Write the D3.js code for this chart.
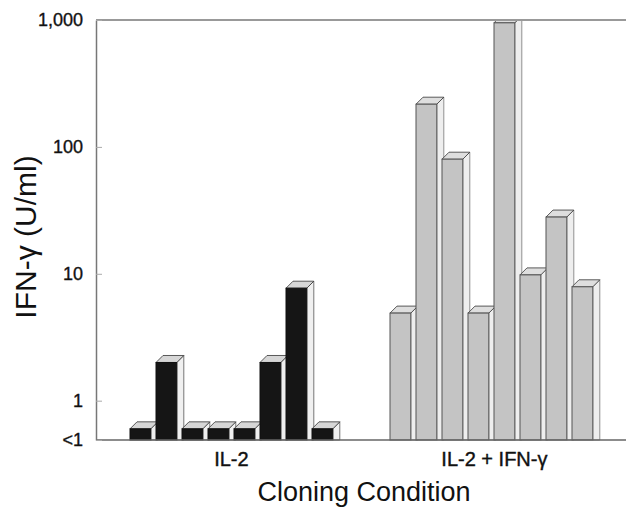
<!DOCTYPE html>
<html>
<head>
<meta charset="utf-8">
<script src="https://cdn.jsdelivr.net/npm/d3@7"></script>
<style>
  html, body { margin: 0; padding: 0; background: #fff; }
  svg { display: block; }
  text { font-family: "Liberation Sans", Arial, Helvetica, sans-serif; fill: #111; }
</style>
</head>
<body>
<svg id="chart" width="626" height="508"></svg>
<script>
// ---- data ----
const groups = ["IL-2", "IL-2 + IFN-\u03b3"];
const il2Values = [0.6, 2, 0.6, 0.6, 0.6, 2, 7.7, 0.6];
const ifnValues = [4.9, 217, 80, 4.9, 950, 9.8, 28, 7.9];
const yTickValues = [0.49, 1, 10, 100, 1000];
const yTickLabels = ["<1", "1", "10", "100", "1,000"];
const yTitle = "IFN-\u03b3 (U/ml)";
const xTitle = "Cloning Condition";

// ---- layout ----
const plotLeft = 96, plotTop = 20, plotBottom = 440, plotRight = 626;
const depth = 7;

const svg = d3.select("#chart");

const bars = [];
il2Values.forEach((v, i) => bars.push({ key: "a" + i, group: 0, value: v }));
const spacers = ["gap1", "gap2"];
ifnValues.forEach((v, i) => bars.push({ key: "b" + i, group: 1, value: v }));
const domainKeys = bars.filter(b => b.group === 0).map(b => b.key)
  .concat(spacers)
  .concat(bars.filter(b => b.group === 1).map(b => b.key));

const x = d3.scaleBand()
  .domain(domainKeys)
  .range([130, 130 + 26 * 17.8])
  .paddingInner(0.2)
  .paddingOuter(0);

const y = d3.scaleLog()
  .domain([0.49, 1000])
  .range([plotBottom, plotTop]);

svg.append("defs").append("clipPath").attr("id", "plotclip")
  .append("rect").attr("x", plotLeft).attr("y", plotTop + 1)
  .attr("width", plotRight - plotLeft).attr("height", plotBottom - plotTop);

const styles = [
  { front: "#151515", frontStroke: "#111", cap: "#d6d6d6", side: "#f0f0f0", edge: "#555" },
  { front: "#c4c4c4", frontStroke: "#555", cap: "#dedede", side: "#eeeeee", edge: "#777" }
];

const gBars = svg.append("g").attr("clip-path", "url(#plotclip)");
const bw = x.bandwidth();

bars.forEach(b => {
  const x0 = x(b.key);
  const yt = y(b.value);
  const s = styles[b.group];
  const g = gBars.append("g");
  g.append("path")
    .attr("d", `M${x0 + bw},${yt} L${x0 + bw + depth},${yt - depth} L${x0 + bw + depth},${plotBottom} L${x0 + bw},${plotBottom} Z`)
    .attr("fill", s.side).attr("stroke", s.edge).attr("stroke-width", 0.8);
  g.append("path")
    .attr("d", `M${x0},${yt} L${x0 + depth},${yt - depth} L${x0 + bw + depth},${yt - depth} L${x0 + bw},${yt} Z`)
    .attr("fill", s.cap).attr("stroke", "#333").attr("stroke-width", 0.8);
  g.append("rect")
    .attr("x", x0).attr("y", yt)
    .attr("width", bw).attr("height", plotBottom - yt)
    .attr("fill", s.front).attr("stroke", s.frontStroke).attr("stroke-width", 1);
});

svg.append("line").attr("x1", plotLeft).attr("x2", plotRight).attr("y1", plotTop).attr("y2", plotTop)
  .attr("stroke", "#777").attr("stroke-width", 1.5);
svg.append("line").attr("x1", plotLeft).attr("x2", plotRight).attr("y1", plotBottom).attr("y2", plotBottom)
  .attr("stroke", "#666").attr("stroke-width", 1.5);

const yAxis = d3.axisLeft(y)
  .tickValues(yTickValues)
  .tickFormat((d, i) => yTickLabels[i])
  .tickSizeInner(-6)
  .tickSizeOuter(0)
  .tickPadding(13);

const ga = svg.append("g").attr("transform", `translate(${plotLeft},0)`).call(yAxis);
ga.select(".domain").attr("stroke", "#777").attr("stroke-width", 1.5);
ga.selectAll(".tick line").attr("stroke", "#aaa").attr("stroke-width", 1);
ga.selectAll(".tick text")
  .attr("font-size", 18)
  .attr("fill", "#111")
  .attr("stroke", "#111").attr("stroke-width", 0.35)
  .style("font-family", "'Liberation Sans', Arial, sans-serif");

[0, 1].forEach(gi => {
  const keys = bars.filter(b => b.group === gi).map(b => b.key);
  const cx = (x(keys[0]) + x(keys[keys.length - 1]) + bw) / 2;
  svg.append("text")
    .attr("x", cx + (gi === 1 ? 3 : 0)).attr("y", 466)
    .attr("text-anchor", "middle")
    .attr("font-size", 20)
    .attr("stroke", "#111").attr("stroke-width", 0.4)
    .text(groups[gi]);
});

svg.append("text")
  .attr("x", 364).attr("y", 501)
  .attr("text-anchor", "middle")
  .attr("font-size", 27)
  .text(xTitle);

svg.append("text")
  .attr("transform", "translate(36,237) rotate(-90)")
  .attr("text-anchor", "middle")
  .attr("font-size", 30)
  .text(yTitle);
</script>
</body>
</html>
